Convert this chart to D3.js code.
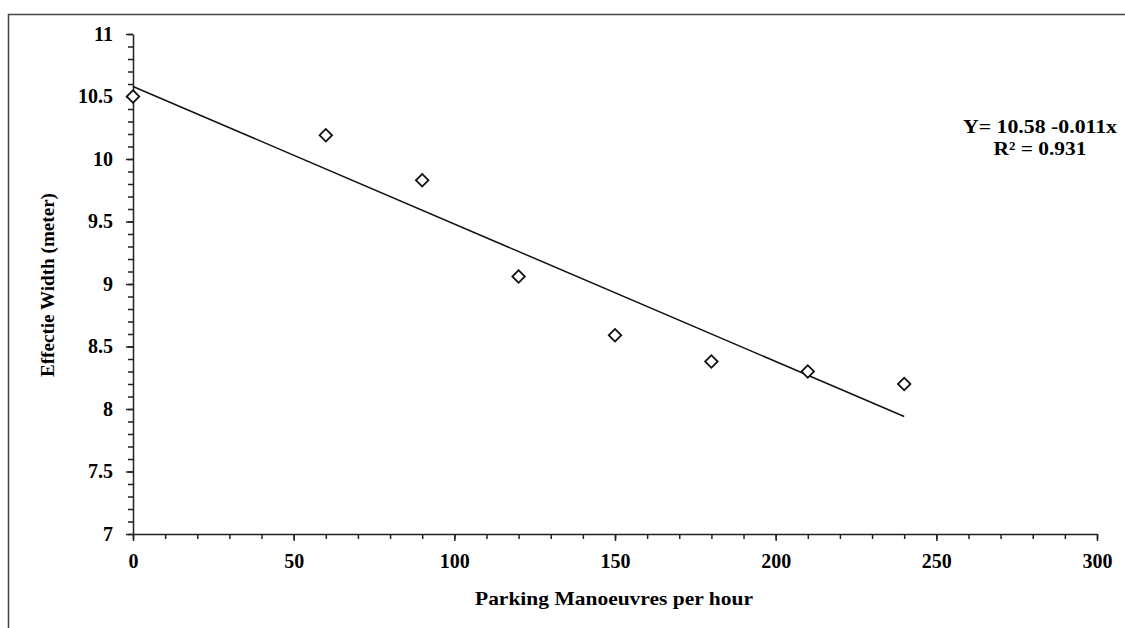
<!DOCTYPE html>
<html>
<head>
<meta charset="utf-8">
<script src="https://cdnjs.cloudflare.com/ajax/libs/d3/7.8.5/d3.min.js"></script>
<style>
  body { margin: 0; background: #fff; }
  text { font-family: "Liberation Serif", "Times New Roman", serif; font-weight: bold; fill: #000; }
</style>
</head>
<body>
<script>
// Data
var maneuvers = [0, 60, 90, 120, 150, 180, 210, 240];
var widths = [10.5, 10.19, 9.83, 9.06, 8.59, 8.38, 8.3, 8.2];
var xTicks = [0, 50, 100, 150, 200, 250, 300];
var yTicks = [7, 7.5, 8, 8.5, 9, 9.5, 10, 10.5, 11];
var fitIntercept = 10.58;
var fitSlope = -0.011;
var equationLines = ["Y= 10.58 -0.011x", "R² = 0.931"];

var svgWidth = 1125;
var svgHeight = 628;

var svg = d3.select("body")
  .append("svg")
  .attr("width", svgWidth)
  .attr("height", svgHeight);

// outer frame (only top and left edges are visible)
svg.append("rect")
  .attr("x", 8.5)
  .attr("y", 14.5)
  .attr("width", 1130)
  .attr("height", 640)
  .attr("fill", "none")
  .attr("stroke", "#444")
  .attr("stroke-width", 1.5);

// scales
var x = d3.scaleLinear().domain([0, 300]).range([133, 1097]);
var y = d3.scaleLinear().domain([7, 11]).range([534, 34]);

// minor ticks
var xMinor = d3.range(0, 301, 10);
var yMinor = d3.range(70, 111, 1).map(d => d / 10);

var xAxisG = svg.append("g").attr("transform", "translate(0,534)");
xAxisG.call(d3.axisBottom(x).tickValues(xMinor).tickSize(5).tickFormat(""))
  .call(g => g.select(".domain").remove());
xAxisG.append("g")
  .call(d3.axisBottom(x).tickValues(xTicks).tickSize(7).tickSizeOuter(0).tickPadding(13).tickFormat(d3.format("d")));
xAxisG.selectAll("line, path").attr("stroke", "#222").attr("stroke-width", 1.5);
xAxisG.selectAll("text").attr("font-size", 20).attr("fill", "#000");

var yAxisG = svg.append("g").attr("transform", "translate(133,0)");
yAxisG.call(d3.axisLeft(y).tickValues(yMinor).tickSize(5).tickFormat(""))
  .call(g => g.select(".domain").remove());
yAxisG.append("g")
  .call(d3.axisLeft(y).tickValues(yTicks).tickSize(7).tickSizeOuter(0).tickPadding(13).tickFormat(d => d));
yAxisG.selectAll("line, path").attr("stroke", "#222").attr("stroke-width", 1.5);
yAxisG.selectAll("text").attr("font-size", 20).attr("fill", "#000");

// trend line
svg.append("line")
  .attr("x1", x(0))
  .attr("y1", y(fitIntercept))
  .attr("x2", x(240))
  .attr("y2", y(fitIntercept + fitSlope * 240))
  .attr("stroke", "#111")
  .attr("stroke-width", 1.5);

// diamond markers
var diamond = d3.symbol().type(d3.symbolSquare).size(78);
svg.selectAll(".pt")
  .data(maneuvers)
  .enter()
  .append("path")
  .attr("class", "pt")
  .attr("d", diamond)
  .attr("transform", (d, i) => `translate(${x(d)},${y(widths[i])}) rotate(45)`)
  .attr("fill", "#fff")
  .attr("stroke", "#111")
  .attr("stroke-width", 1.8);

// equation
var eqWidths = [154, 93];
svg.append("g")
  .selectAll("text")
  .data(equationLines)
  .enter()
  .append("text")
  .attr("x", 1040)
  .attr("y", (d, i) => 133 + i * 22)
  .attr("text-anchor", "middle")
  .attr("font-size", 19)
  .attr("textLength", (d, i) => eqWidths[i])
  .attr("lengthAdjust", "spacingAndGlyphs")
  .text(d => d);

// axis titles
svg.append("text")
  .attr("x", 614)
  .attr("y", 605)
  .attr("text-anchor", "middle")
  .attr("font-size", 19)
  .attr("textLength", 278)
  .attr("lengthAdjust", "spacingAndGlyphs")
  .text("Parking Manoeuvres per hour");

svg.append("text")
  .attr("transform", "translate(54,285) rotate(-90)")
  .attr("text-anchor", "middle")
  .attr("font-size", 18)
  .attr("textLength", 184)
  .attr("lengthAdjust", "spacingAndGlyphs")
  .text("Effectie Width (meter)");
</script>
</body>
</html>
